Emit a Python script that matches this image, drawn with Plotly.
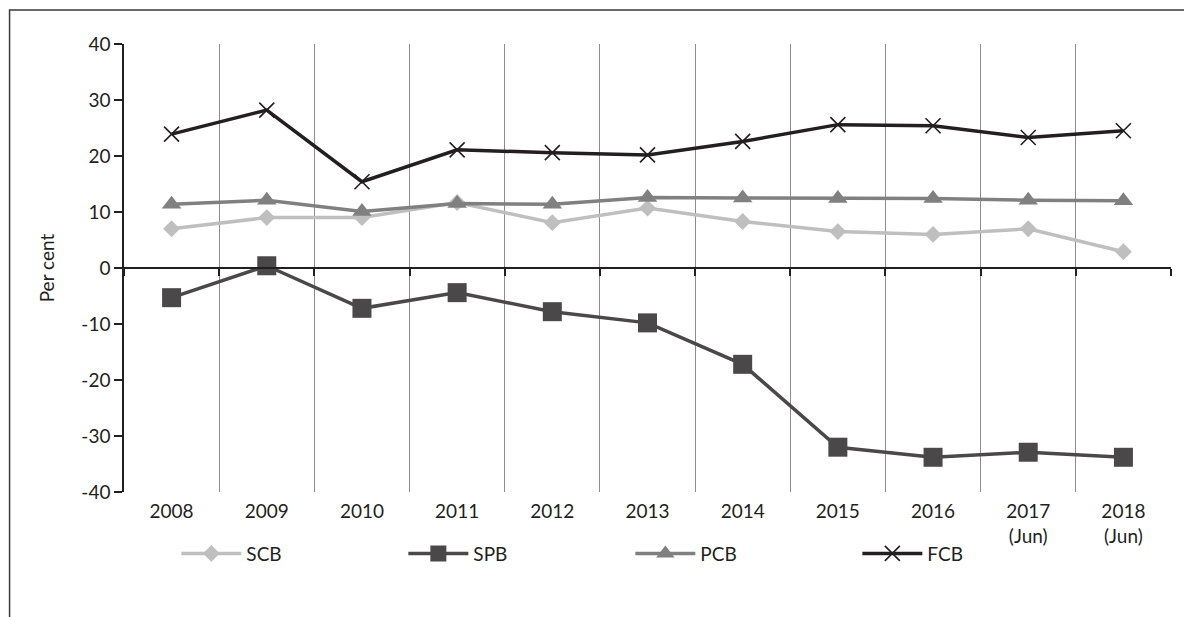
import plotly.graph_objects as go

years = ["2008", "2009", "2010", "2011", "2012", "2013", "2014", "2015", "2016",
         "2017<br>(Jun)", "2018<br>(Jun)"]

scb = [7.0, 9.0, 9.0, 11.7, 8.1, 10.7, 8.3, 6.5, 6.0, 7.0, 2.9]
spb = [-5.3, 0.4, -7.2, -4.4, -7.8, -9.8, -17.2, -32.0, -33.8, -32.9, -33.8]
pcb = [11.4, 12.1, 10.1, 11.5, 11.4, 12.6, 12.5, 12.4, 12.4, 12.1, 12.0]
fcb = [23.9, 28.2, 15.4, 21.1, 20.6, 20.2, 22.6, 25.6, 25.4, 23.3, 24.5]

y_ticks = [40, 30, 20, 10, 0, -10, -20, -30, -40]
y_labels = ["40", "30", "20", "10", "0", "-10", "-20", "-30", "-40"]

FONT = "Lato"
TXT = "#231f20"

fig = go.Figure()

# series: name, values, line colour, marker
series = [
    ("SCB", scb, "#bfbfbf", dict(symbol="diamond", size=13, color="#bfbfbf")),
    ("SPB", spb, "#4b4849", dict(symbol="square", size=19, color="#4b4849")),
    ("PCB", pcb, "#808080", dict(symbol="triangle-up", size=17, color="#808080")),
    ("FCB", fcb, "#231f20", dict(symbol="x-thin", size=15, color="#231f20",
                                 line=dict(color="#231f20", width=1.6))),
]
for name, vals, col, mk in series:
    fig.add_trace(go.Scatter(
        x=years, y=vals, name=name, mode="lines+markers",
        line=dict(color=col, width=3.5), marker=mk,
    ))

# helper trace so the zero-line axis (x2) gets its categories
fig.add_trace(go.Scatter(x=years, y=[None] * len(years), xaxis="x2",
                         showlegend=False, hoverinfo="skip", mode="lines"))

fig.update_layout(
    width=1184, height=609,
    margin=dict(l=116, r=21, t=36, b=125, autoexpand=False),
    paper_bgcolor="white", plot_bgcolor="white",
    font=dict(family=FONT, size=19, color=TXT),
    showlegend=True,
    legend=dict(orientation="h", x=0.05, xanchor="left", y=-0.095, yanchor="top",
                itemwidth=60, entrywidth=152, entrywidthmode="pixels",
                bgcolor="rgba(0,0,0,0)", font=dict(size=19, color=TXT)),
    # bottom axis: category labels + boundary grid
    xaxis=dict(type="category", range=[-0.5, 10.5], tickson="boundaries",
               showgrid=True, gridcolor="#8c8c8c", gridwidth=1,
               ticks="", ticklabelstandoff=6,
               showline=False, zeroline=False, automargin=False,
               tickfont=dict(size=19, color=TXT)),
    # axis line through zero with boundary ticks
    xaxis2=dict(type="category", overlaying="x", anchor="free", position=0.5,
                range=[-0.5, 10.5], tickson="boundaries", showgrid=False,
                showline=True, linecolor=TXT, linewidth=1.5,
                ticks="outside", ticklen=7, tickcolor=TXT, tickwidth=1.5,
                showticklabels=False),
    yaxis=dict(range=[-40, 40], tickvals=y_ticks, ticktext=y_labels,
               showgrid=False, zeroline=False, automargin=False,
               showline=True, linecolor=TXT, linewidth=1.5,
               ticks="outside", ticklen=8, tickcolor=TXT, tickwidth=1.5,
               tickfont=dict(size=19, color=TXT),
               title=dict(text="Per cent", standoff=22, font=dict(size=19, color=TXT))),
    shapes=[dict(type="rect", xref="paper", yref="paper",
                 x0=-0.1093, x1=1.018, y0=-0.45, y1=1.0759,
                 line=dict(color="#3a3a3a", width=1.5), fillcolor="rgba(0,0,0,0)",
                 layer="above")],
)

fig.write_html("out.html")
